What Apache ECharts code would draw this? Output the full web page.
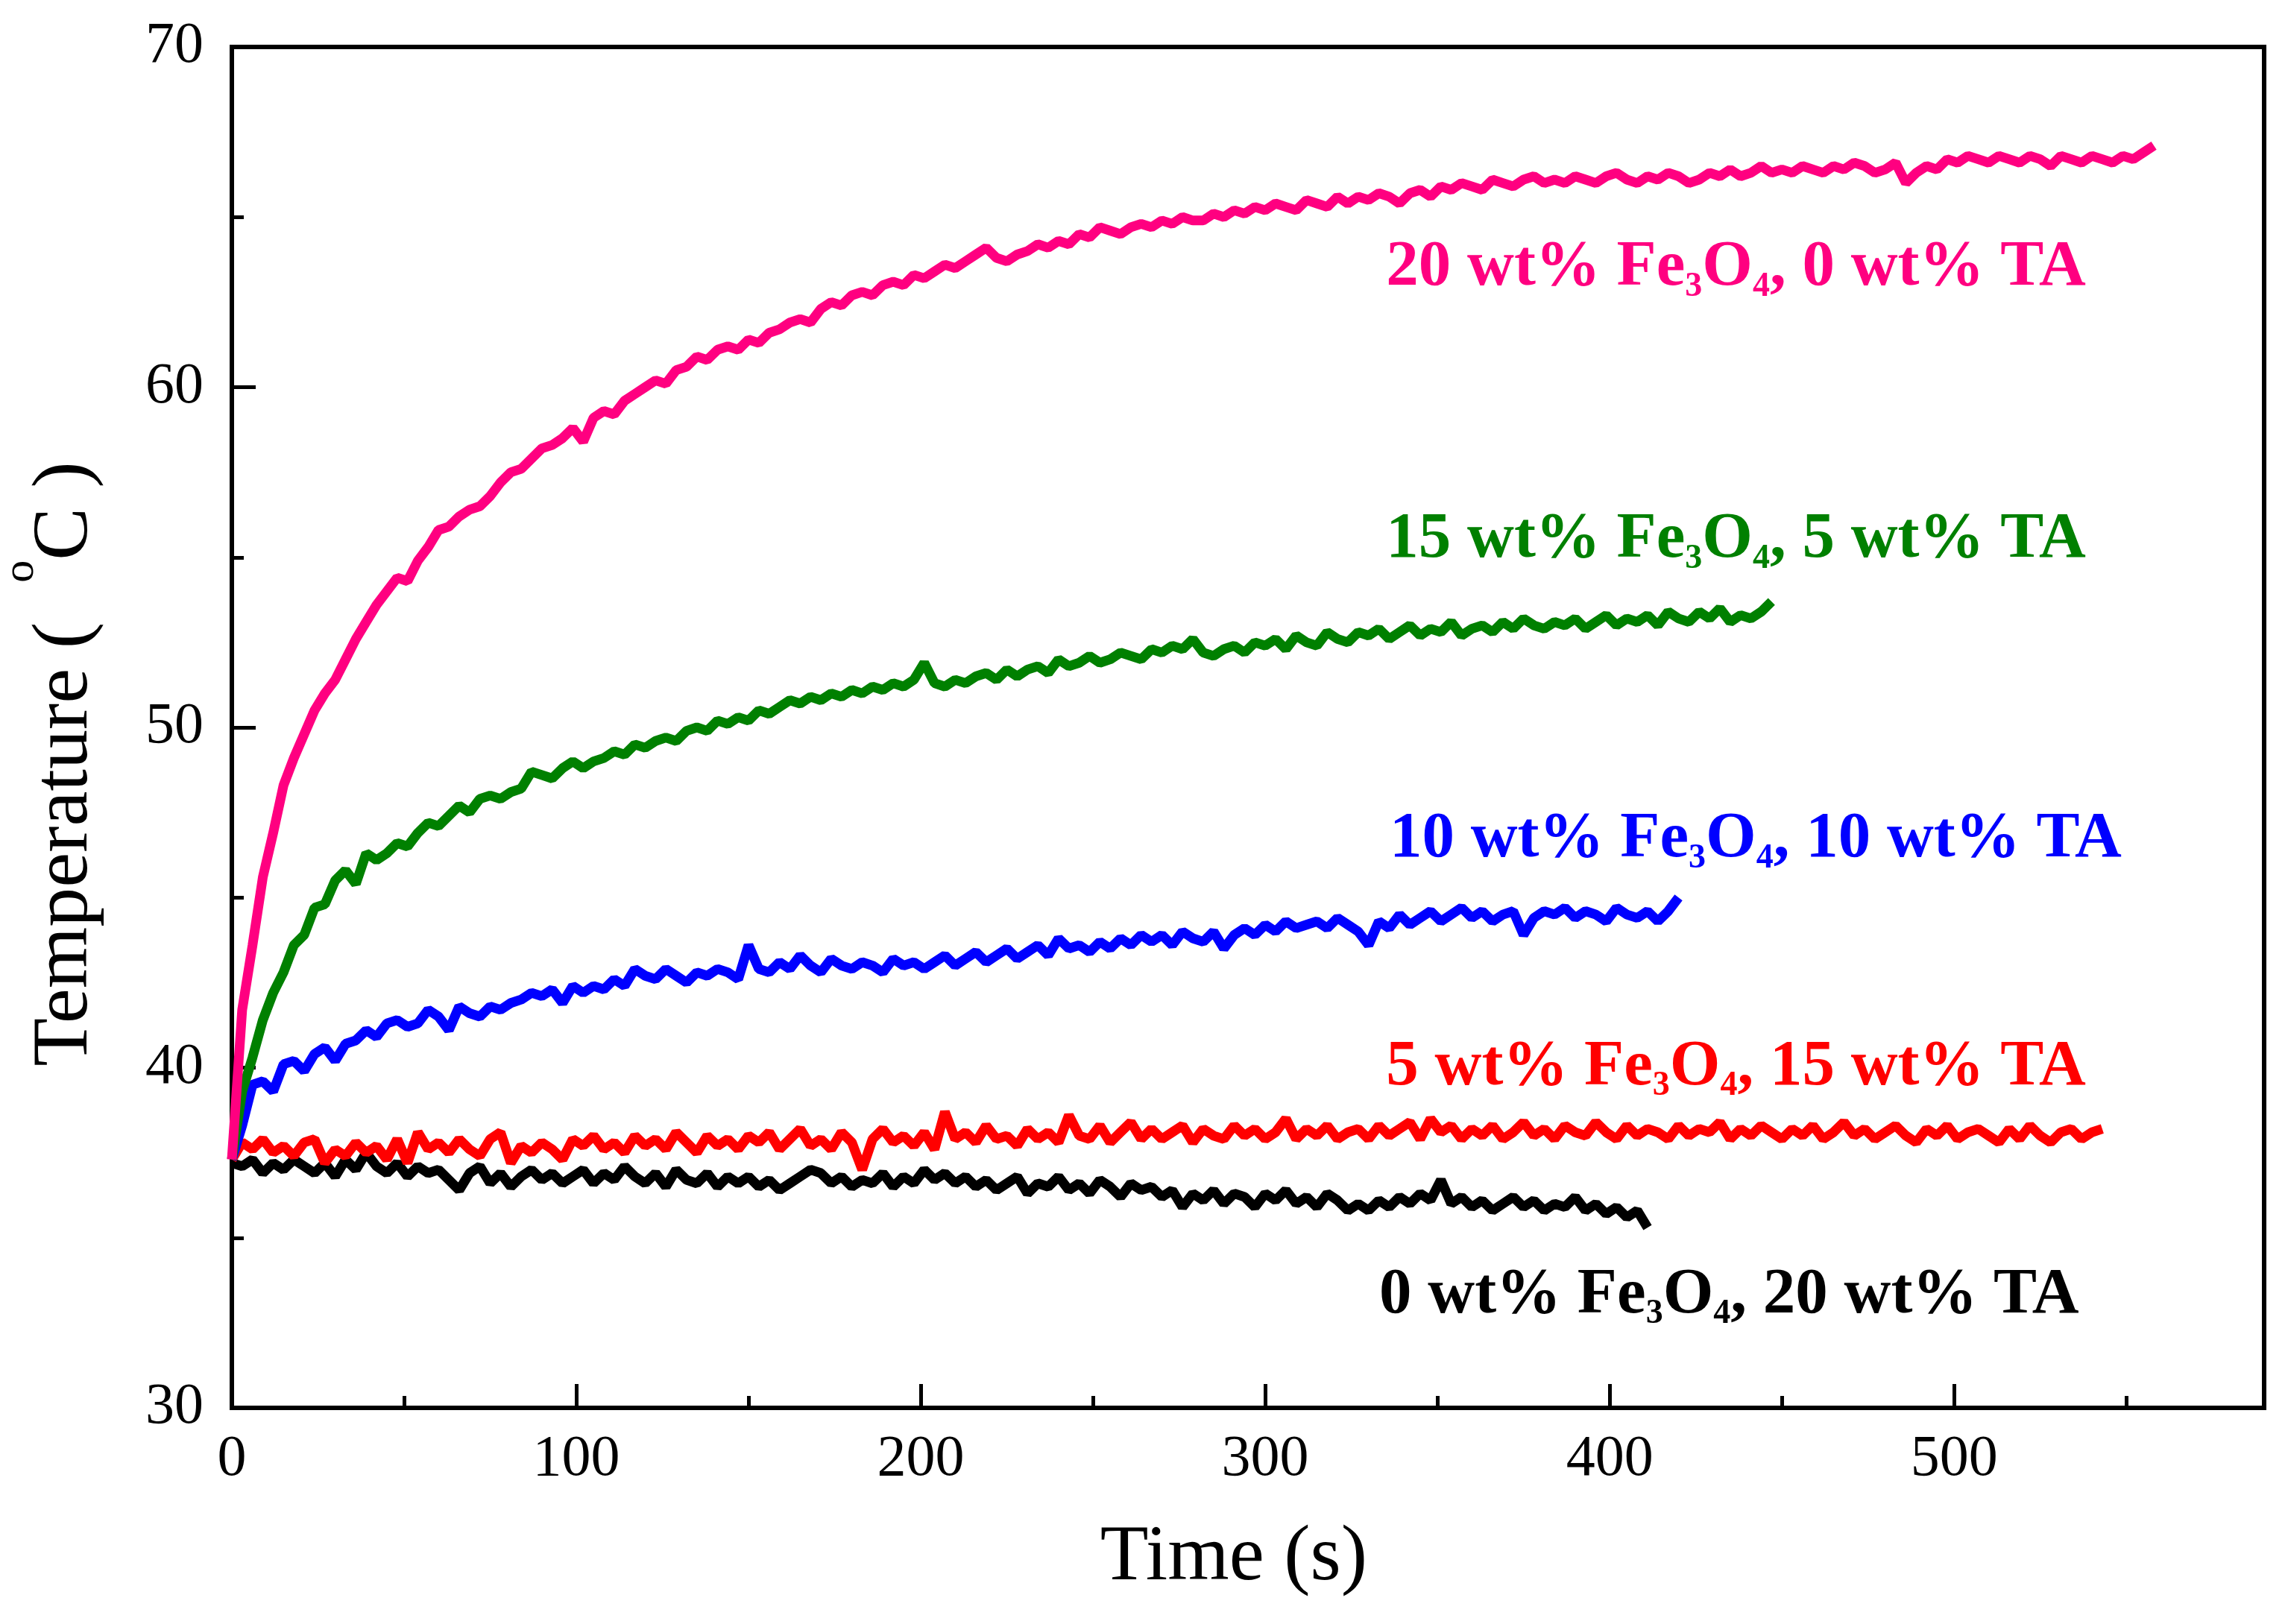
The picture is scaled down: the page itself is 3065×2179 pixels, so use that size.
<!DOCTYPE html>
<html>
<head>
<meta charset="utf-8">
<script src="https://cdn.jsdelivr.net/npm/echarts@6.0.0/dist/echarts.min.js"></script>
<style>
  html, body { margin: 0; padding: 0; background: #fff; }
  #main { width: 3065px; height: 2179px; }
</style>
</head>
<body>
<div id="main"></div>
<script>
// samples are taken every TIME_STEP seconds, starting at t = 0
var TIME_STEP = 3;

// Fe3O4 / TA content of each sample (wt%)
var feContent = [0, 5, 10, 15, 20];
var taContent = [20, 15, 10, 5, 0];

// temperature (oC), 0 wt% Fe3O4 / 20 wt% TA
var tempFe0 = [
  37.2, 37.1, 37.3, 36.9, 37.2, 37.0, 37.3, 37.1, 36.9, 37.2,
  36.8, 37.3, 37.0, 37.5, 37.1, 36.9, 37.2, 36.8, 37.1, 36.9,
  37.0, 36.7, 36.4, 36.9, 37.1, 36.6, 36.9, 36.5, 36.8, 37.0,
  36.7, 36.9, 36.6, 36.8, 37.0, 36.6, 36.9, 36.7, 37.1, 36.8,
  36.6, 36.9, 36.5, 37.0, 36.7, 36.6, 36.9, 36.5, 36.8, 36.6,
  36.8, 36.5, 36.7, 36.4, 36.6, 36.8, 37.0, 36.9, 36.6, 36.8,
  36.5, 36.7, 36.6, 36.9, 36.5, 36.8, 36.6, 37.0, 36.7, 36.9,
  36.6, 36.8, 36.5, 36.7, 36.4, 36.6, 36.8, 36.3, 36.6, 36.5,
  36.8, 36.4, 36.6, 36.3, 36.7, 36.5, 36.2, 36.6, 36.4, 36.5,
  36.2, 36.4, 35.9, 36.3, 36.1, 36.4, 36.0, 36.3, 36.2, 35.9,
  36.3, 36.1, 36.4, 36.0, 36.2, 35.9, 36.3, 36.1, 35.8, 36.0,
  35.8, 36.1, 35.9, 36.2, 36.0, 36.3, 36.1, 36.7, 36.0, 36.2,
  35.9, 36.1, 35.8, 36.0, 36.2, 35.9, 36.1, 35.8, 36.0, 35.9,
  36.2, 35.8, 36.0, 35.7, 35.9, 35.6, 35.8, 35.3
];

// 5 wt% Fe3O4 / 15 wt% TA
var tempFe5 = [
  37.3, 37.8, 37.6, 37.9, 37.5, 37.7, 37.4, 37.8, 37.9, 37.2,
  37.6, 37.4, 37.8, 37.5, 37.7, 37.3, 37.9, 37.2, 38.1, 37.6,
  37.8, 37.5, 37.9, 37.6, 37.4, 37.9, 38.1, 37.2, 37.7, 37.5,
  37.8, 37.6, 37.3, 37.9, 37.7, 38.0, 37.6, 37.8, 37.5, 38.0,
  37.7, 37.9, 37.6, 38.1, 37.8, 37.5, 38.0, 37.7, 37.9, 37.6,
  38.0, 37.8, 38.1, 37.6, 37.9, 38.2, 37.7, 37.9, 37.6, 38.1,
  37.8, 37.0, 37.9, 38.2, 37.8, 38.0, 37.7, 38.1, 37.6, 38.7,
  37.9, 38.1, 37.8, 38.3, 37.9, 38.0, 37.7, 38.2, 37.9, 38.1,
  37.8, 38.6, 38.0, 37.9, 38.3, 37.8, 38.1, 38.4, 37.9, 38.2,
  37.9, 38.1, 38.3, 37.8, 38.2, 38.0, 37.9, 38.3, 38.0, 38.2,
  37.9, 38.1, 38.5, 37.9, 38.2, 38.0, 38.3, 37.9, 38.1, 38.2,
  37.9, 38.3, 38.0, 38.2, 38.4, 37.9, 38.5, 38.1, 38.3, 37.9,
  38.2, 38.0, 38.3, 37.9, 38.1, 38.4, 38.0, 38.2, 37.9, 38.3,
  38.1, 38.0, 38.4, 38.1, 37.9, 38.3, 38.0, 38.2, 38.1, 37.9,
  38.3, 38.0, 38.2, 38.1, 38.4, 37.9, 38.2, 38.0, 38.3, 38.1,
  37.9, 38.2, 38.0, 38.3, 37.9, 38.1, 38.4, 38.0, 38.2, 37.9,
  38.1, 38.3, 38.0, 37.8, 38.2, 38.0, 38.3, 37.9, 38.1, 38.2,
  38.0, 37.8, 38.2, 37.9, 38.3, 38.0, 37.8, 38.1, 38.2, 37.9,
  38.1, 38.2
];

// 10 wt% Fe3O4 / 10 wt% TA
var tempFe10 = [
  37.3, 38.3, 39.5, 39.6, 39.3, 40.1, 40.2, 39.9, 40.4, 40.6,
  40.2, 40.7, 40.8, 41.1, 40.9, 41.3, 41.4, 41.2, 41.3, 41.7,
  41.5, 41.1, 41.8, 41.6, 41.5, 41.8, 41.7, 41.9, 42.0, 42.2,
  42.1, 42.3, 41.9, 42.4, 42.2, 42.4, 42.3, 42.6, 42.4, 42.9,
  42.7, 42.6, 42.9, 42.7, 42.5, 42.8, 42.7, 42.9, 42.8, 42.6,
  43.6, 42.9, 42.8, 43.1, 42.9, 43.3, 43.0, 42.8, 43.2, 43.0,
  42.9, 43.1, 43.0, 42.8, 43.2, 43.0, 43.1, 42.9, 43.1, 43.3,
  43.0, 43.2, 43.4, 43.1, 43.3, 43.5, 43.2, 43.4, 43.6, 43.3,
  43.8, 43.5, 43.6, 43.4, 43.7, 43.5, 43.8, 43.6, 43.9, 43.7,
  43.9, 43.6, 44.0, 43.8, 43.7, 44.0, 43.5, 43.9, 44.1, 43.9,
  44.2, 44.0, 44.3, 44.1, 44.2, 44.3, 44.1, 44.4, 44.2, 44.0,
  43.6, 44.3, 44.1, 44.5, 44.2, 44.4, 44.6, 44.3, 44.5, 44.7,
  44.4, 44.6, 44.3, 44.5, 44.6, 43.9, 44.4, 44.6, 44.5, 44.7,
  44.4, 44.6, 44.5, 44.3, 44.7, 44.5, 44.4, 44.6, 44.3, 44.6,
  45.0
];

// 15 wt% Fe3O4 / 5 wt% TA
var tempFe15 = [
  37.3, 39.3, 40.3, 41.4, 42.2, 42.8, 43.6, 43.9, 44.7, 44.8,
  45.5, 45.8, 45.4, 46.3, 46.1, 46.3, 46.6, 46.5, 46.9, 47.2,
  47.1, 47.4, 47.7, 47.5, 47.9, 48.0, 47.9, 48.1, 48.2, 48.7,
  48.6, 48.5, 48.8, 49.0, 48.8, 49.0, 49.1, 49.3, 49.2, 49.5,
  49.4, 49.6, 49.7, 49.6, 49.9, 50.0, 49.9, 50.2, 50.1, 50.3,
  50.2, 50.5, 50.4, 50.6, 50.8, 50.7, 50.9, 50.8, 51.0, 50.9,
  51.1, 51.0, 51.2, 51.1, 51.3, 51.2, 51.4, 51.9, 51.3, 51.2,
  51.4, 51.3, 51.5, 51.6, 51.4, 51.7, 51.5, 51.7, 51.8, 51.6,
  52.0, 51.8, 51.9, 52.1, 51.9, 52.0, 52.2, 52.1, 52.0, 52.3,
  52.2, 52.4, 52.3, 52.6, 52.2, 52.1, 52.3, 52.4, 52.2, 52.5,
  52.4, 52.6, 52.3, 52.7, 52.5, 52.4, 52.8, 52.6, 52.5, 52.8,
  52.7, 52.9, 52.6, 52.8, 53.0, 52.7, 52.9, 52.8, 53.1, 52.7,
  52.9, 53.0, 52.8, 53.1, 52.9, 53.2, 53.0, 52.9, 53.1, 53.0,
  53.2, 52.9, 53.1, 53.3, 53.0, 53.2, 53.1, 53.3, 53.0, 53.4,
  53.2, 53.1, 53.4, 53.2, 53.5, 53.1, 53.3, 53.2, 53.4, 53.7
];

// 20 wt% Fe3O4 / 0 wt% TA
var tempFe20 = [
  37.3, 41.7, 43.6, 45.6, 46.9, 48.3, 49.1, 49.8, 50.5, 51.0,
  51.4, 52.0, 52.6, 53.1, 53.6, 54.0, 54.4, 54.3, 54.9, 55.3,
  55.8, 55.9, 56.2, 56.4, 56.5, 56.8, 57.2, 57.5, 57.6, 57.9,
  58.2, 58.3, 58.5, 58.8, 58.4, 59.1, 59.3, 59.2, 59.6, 59.8,
  60.0, 60.2, 60.1, 60.5, 60.6, 60.9, 60.8, 61.1, 61.2, 61.1,
  61.4, 61.3, 61.6, 61.7, 61.9, 62.0, 61.9, 62.3, 62.5, 62.4,
  62.7, 62.8, 62.7, 63.0, 63.1, 63.0, 63.3, 63.2, 63.4, 63.6,
  63.5, 63.7, 63.9, 64.1, 63.8, 63.7, 63.9, 64.0, 64.2, 64.1,
  64.3, 64.2, 64.5, 64.4, 64.7, 64.6, 64.5, 64.7, 64.8, 64.7,
  64.9, 64.8, 65.0, 64.9, 64.9, 65.1, 65.0, 65.2, 65.1, 65.3,
  65.2, 65.4, 65.3, 65.2, 65.5, 65.4, 65.3, 65.6, 65.4, 65.6,
  65.5, 65.7, 65.6, 65.4, 65.7, 65.8, 65.6, 65.9, 65.8, 66.0,
  65.9, 65.8, 66.1, 66.0, 65.9, 66.1, 66.2, 66.0, 66.1, 66.0,
  66.2, 66.1, 66.0, 66.2, 66.3, 66.1, 66.0, 66.2, 66.1, 66.3,
  66.2, 66.0, 66.1, 66.3, 66.2, 66.4, 66.2, 66.3, 66.5, 66.3,
  66.4, 66.3, 66.5, 66.4, 66.3, 66.5, 66.4, 66.6, 66.5, 66.3,
  66.4, 66.6, 66.0, 66.3, 66.5, 66.4, 66.7, 66.6, 66.8, 66.7,
  66.6, 66.8, 66.7, 66.6, 66.8, 66.7, 66.5, 66.8, 66.7, 66.6,
  66.8, 66.7, 66.6, 66.8, 66.7, 66.9, 67.1
];

var temps = [tempFe0, tempFe5, tempFe10, tempFe15, tempFe20];
var colors = ['#000000', '#ff0000', '#0000ff', '#008000', '#ff0080'];
// where each curve's caption starts: [time, temperature]
var captionAt = [[333, 33.3], [335, 40.0], [336, 46.7], [335, 55.5], [335, 63.5]];

var FONT = 'Liberation Serif';

function toPairs(values) {
    return values.map(function (v, i) { return [i * TIME_STEP, v]; });
}

var series = temps.map(function (values, k) {
    var caption = '{m|' + feContent[k] + ' wt% Fe}{sub|3}{m|O}{sub|4}{m|, ' + taContent[k] + ' wt% TA}';
    return {
        name: feContent[k] + ' wt% Fe3O4, ' + taContent[k] + ' wt% TA',
        type: 'line',
        data: toPairs(values),
        showSymbol: false,
        symbol: 'none',
        lineStyle: { width: 13, color: colors[k] },
        itemStyle: { color: colors[k] },
        markPoint: {
            silent: true,
            symbol: 'circle',
            symbolSize: 1,
            itemStyle: { color: 'rgba(0,0,0,0)' },
            label: {
                show: true,
                position: 'right',
                distance: 0,
                formatter: function () { return caption; },
                rich: {
                    m: { fontFamily: FONT, fontWeight: 'bold', fontSize: 87, lineHeight: 96, color: colors[k] },
                    sub: { fontFamily: FONT, fontWeight: 'bold', fontSize: 46, lineHeight: 94, verticalAlign: 'bottom', color: colors[k] }
                }
            },
            data: [{ coord: captionAt[k] }]
        }
    };
});

var tickStyle = { color: '#000', width: 5 };

var option = {
    animation: false,
    backgroundColor: '#fff',
    grid: {
        left: 311, right: 28, top: 63, bottom: 290,
        outerBoundsMode: 'none',
        show: true, borderColor: '#000', borderWidth: 6, backgroundColor: 'transparent'
    },
    xAxis: [{
        type: 'value',
        position: 'bottom',
        min: 0, max: 590, interval: 100,
        name: 'Time (s)',
        nameLocation: 'middle',
        nameGap: 149,
        nameTextStyle: { fontFamily: FONT, fontSize: 106, color: '#000', padding: [0, 38, 0, 0] },
        axisLine: { show: true, lineStyle: { color: '#000', width: 6 } },
        axisTick: { show: true, inside: true, length: 32, lineStyle: tickStyle },
        axisLabel: { fontFamily: FONT, fontSize: 78, color: '#000', margin: 31, showMaxLabel: false },
        splitLine: { show: false }
    }, {
        // minor ticks every 50 s
        type: 'value',
        position: 'bottom',
        min: 0, max: 590, interval: 50,
        axisLine: { show: false },
        axisTick: { show: true, inside: true, length: 16, lineStyle: tickStyle },
        axisLabel: { show: false },
        splitLine: { show: false }
    }],
    yAxis: {
        type: 'value',
        min: 30, max: 70, interval: 10,
        name: '{t|Temperature (  }{o|o}{t|C )}',
        nameLocation: 'middle',
        nameGap: 133,
        nameTextStyle: {
            fontFamily: FONT, fontSize: 106, color: '#000', padding: [0, 98, 0, 0],
            rich: {
                t: { fontFamily: FONT, fontSize: 106, lineHeight: 180, color: '#000' },
                o: { fontFamily: FONT, fontSize: 60, lineHeight: 6, verticalAlign: 'top', color: '#000' }
            }
        },
        axisLine: { show: true, lineStyle: { color: '#000', width: 6 } },
        axisTick: { show: true, inside: true, length: 32, lineStyle: tickStyle },
        minorTick: { show: true, splitNumber: 2, length: 16, lineStyle: tickStyle },
        axisLabel: { fontFamily: FONT, fontSize: 78, color: '#000', margin: 38 },
        splitLine: { show: false }
    },
    series: series
};

var chart = echarts.init(document.getElementById('main'));
chart.setOption(option);
</script>
</body>
</html>
